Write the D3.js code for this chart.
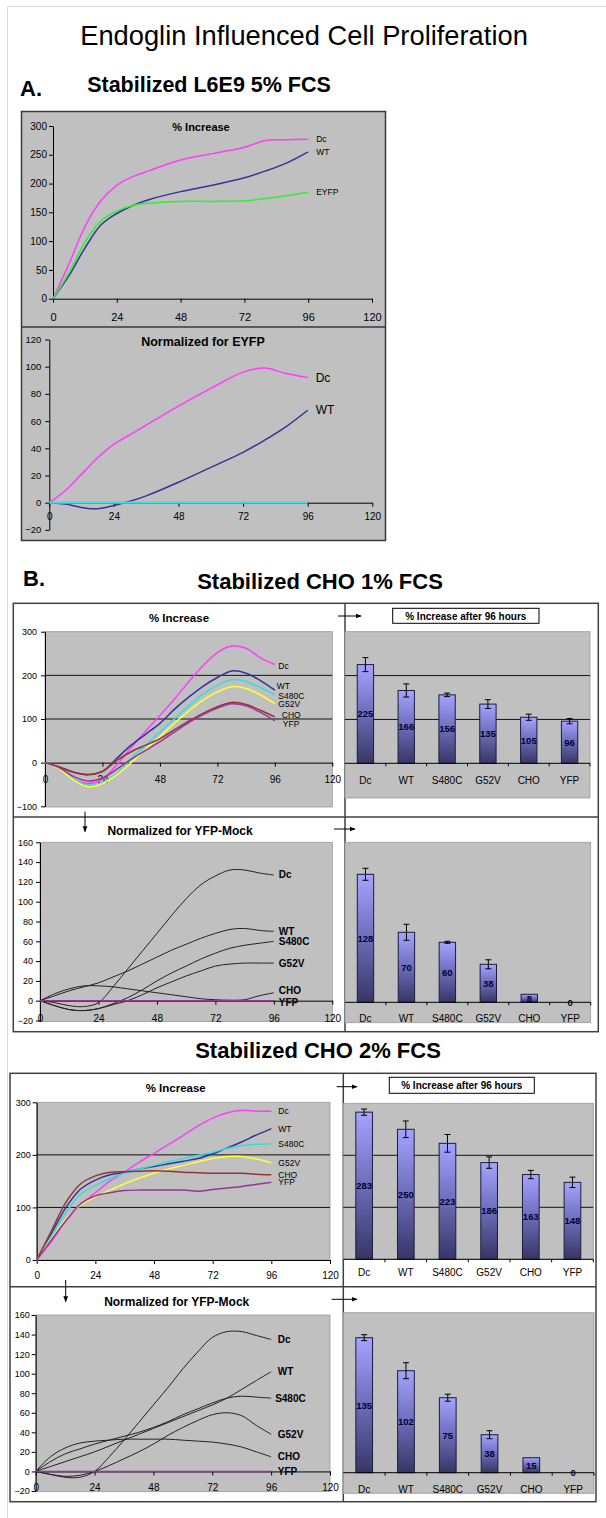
<!DOCTYPE html>
<html><head><meta charset="utf-8">
<script src="https://cdn.jsdelivr.net/npm/d3@7"></script>
<style>body{margin:0;background:#fff}svg{display:block;font-family:"Liberation Sans",Arial,sans-serif}</style>
</head><body><svg id="c" width="606" height="1518"></svg>
<script>
// ---------- data ----------
const cats = ["Dc","WT","S480C","G52V","CHO","YFP"];
const xTicks = [0,24,48,72,96,120];

const hoursA = [0,6,12,18,24,30,36,48,60,72,80,88,96];
const aIncDc   = [0,60,125,170,197,212,222,241,252,263,275,276,277];
const aIncWT   = [0,40,88,128,148,162,172,186,197,210,222,236,255];
const aIncEYFP = [0,45,98,135,152,162,166,169,169,170,174,179,185];
const aNormDc   = [0,9,21,33,43,50,57,71,84,96,99,95,92];
const aNormWT   = [0,-1,-3.5,-4.5,-2,1,5,15,26,37,46,56,68];
const aNormEYFP = [0,0,0,0,0,0,0,0,0,0,0,0,0];

const hoursB = [0,6,12,18,24,30,36,42,48,54,60,66,72,78,84,90,96];
// CHO 1% FCS, % increase (order = cats)
const cho1Inc = [
  [0,-15,-38,-48,-38,-5,35,72,108,145,185,222,252,267,262,240,225],
  [0,-10,-22,-27,-20,10,40,65,90,122,150,175,195,210,205,188,166],
  [0,-14,-38,-52,-45,-25,10,40,70,100,130,157,177,190,186,172,156],
  [0,-15,-40,-55,-48,-28,0,30,60,90,118,143,162,174,170,155,135],
  [0,-10,-22,-28,-20,5,25,40,55,75,95,113,128,138,133,120,105],
  [0,-12,-32,-42,-35,-15,8,28,48,70,92,110,125,135,130,115,96]
];
// CHO 1% FCS, normalized for YFP-Mock
const cho1Norm = [
  [0,-2,-5,-6,-2,14,32,50,68,86,103,117,126,132,132,129,127],
  [0,5,10,14,18,24,30,37,44,51,57,63,68,72,73,71,70],
  [0,-5,-9,-10,-8,-3,3,11,20,28,35,42,48,53,56,58,60],
  [0,-5,-9,-10,-8,-4,0,6,13,19,25,30,35,37,38,38,38],
  [0,7,12,15,15,14,12,10,8,6,4,2,1,0.5,1,5,8],
  [0,0,0,0,0,0,0,0,0,0,0,0,0,0,0,0,0]
];
// CHO 2% FCS, % increase
const cho2Inc = [
  [0,35,75,105,128,150,168,186,203,220,237,255,270,280,285,283,283],
  [0,50,100,135,152,162,167,173,178,183,188,193,202,213,225,238,250],
  [0,45,90,125,142,155,165,173,180,187,193,199,205,212,218,220,221],
  [0,40,78,105,120,133,145,156,165,173,180,187,193,197,197,192,185],
  [0,55,110,145,160,167,168,169,170,169,167,166,165,165,165,163,162],
  [0,38,75,107,122,128,132,133,133,133,133,131,134,137,140,144,148]
];
// CHO 2% FCS, normalized for YFP-Mock
const cho2Norm = [
  [0,-3,-6,-6,0,15,32,50,68,86,105,122,137,143,143,139,135],
  [0,5,10,15,20,26,32,38,44,50,56,62,68,75,84,93,102],
  [0,10,18,23,28,32,36,40,45,51,58,64,70,75,77,76,75],
  [0,-3,-5,-4,0,6,13,20,28,37,45,52,58,60,57,47,38],
  [0,15,24,29,31,32,33,33,33,33,32,31,30,28,25,20,15],
  [0,0,0,0,0,0,0,0,0,0,0,0,0,0,0,0,0]
];

const cho1Bar = [225,166,156,135,105,96];
const cho1BarErr = [16,15,4,10,7,6];
const cho1NormBar = [128,70,60,38,8,0];
const cho1NormErr = [6,8,1,4.5,0,0];
const cho2Bar = [283,250,223,186,163,148];
const cho2BarErr = [6,16,17,11,8,10];
const cho2NormBar = [135,102,75,38,15,0];
const cho2NormErr = [3,8,3.5,4,0,0];

// ---------- styles ----------
const FONT = '"Liberation Sans", Arial, sans-serif';
const GREY = "#c0c0c0";
const seriesColors = ["#ff3cff","#333399","#33dddd","#ffff33","#993333","#993399"];
const normColors = ["#222","#222","#222","#222","#222","#993399"];

const svg = d3.select("#c");
const defs = svg.append("defs");
const grad = defs.append("linearGradient").attr("id","barGrad")
  .attr("x1",0).attr("y1",0).attr("x2",0).attr("y2",1);
grad.append("stop").attr("offset","0%").attr("stop-color","#a4a4ff");
grad.append("stop").attr("offset","50%").attr("stop-color","#6c6cba");
grad.append("stop").attr("offset","100%").attr("stop-color","#363664");
defs.append("marker").attr("id","ah").attr("viewBox","0 0 10 10")
  .attr("refX",9).attr("refY",5).attr("markerWidth",6).attr("markerHeight",6)
  .attr("orient","auto").append("path").attr("d","M0,1 L10,5 L0,9 Z").attr("fill","#000");

function txt(x, y, s, size, bold, anchor, fill) {
  return svg.append("text").attr("x", x).attr("y", y).attr("dy", "0.35em")
    .attr("font-size", size).attr("font-weight", bold ? "bold" : "normal")
    .attr("text-anchor", anchor || "middle").attr("fill", fill || "#000").text(s);
}
function ln(x1,y1,x2,y2,stroke,w,arrow){
  const l = svg.append("line").attr("x1",x1).attr("y1",y1).attr("x2",x2).attr("y2",y2)
    .attr("stroke",stroke).attr("stroke-width",w);
  if (arrow) l.attr("marker-end","url(#ah)");
  return l;
}

function lineChart(c) {
  const g = svg.append("g");
  const x = d3.scaleLinear().domain([0,120]).range([c.xl, c.xr]);
  const y = d3.scaleLinear().domain(c.yDom).range(c.yRng);
  if (c.bg) g.append("rect").attr("x",c.xl).attr("y",c.bg[0]).attr("width",c.xr-c.xl)
    .attr("height",c.bg[1]-c.bg[0]).attr("fill",GREY).attr("stroke","#9a9a9a").attr("stroke-width",0.8);
  (c.grid||[]).forEach(v => g.append("line").attr("x1",c.xl).attr("x2",c.xr)
    .attr("y1",y(v)).attr("y2",y(v)).attr("stroke","#111").attr("stroke-width",1));
  const ya = g.append("g").attr("transform",`translate(${c.xl},0)`)
    .call(d3.axisLeft(y).tickValues(c.yTicks).tickSize(4).tickSizeOuter(0).tickPadding(c.yPad));
  const xa = g.append("g").attr("transform",`translate(0,${y(0)})`)
    .call(d3.axisBottom(x).tickValues(xTicks).tickSize(4).tickSizeOuter(0));
  [ya,xa].forEach(a => {
    a.attr("font-family", FONT);
    a.select(".domain").attr("stroke","#000");
    a.selectAll(".tick line").attr("stroke","#000");
    a.selectAll("text").attr("fill","#000");
  });
  ya.attr("font-size", c.yFs);
  xa.attr("font-size", c.xFs);
  xa.selectAll("text").attr("y", c.xLab).attr("dy","0.35em");
  const line = d3.line().x((d,i)=>x(c.hours[i])).y(d=>y(d)).curve(d3.curveCatmullRom.alpha(0.5));
  c.series.forEach((vals,i) => {
    g.append("path").attr("d", line(vals)).attr("fill","none")
      .attr("stroke", c.colors[i]).attr("stroke-width", c.widths ? c.widths[i] : 1.5);
  });
  c.labels.forEach((name,i) => {
    const vals = c.series[i];
    g.append("text").attr("x", x(c.hours[c.hours.length-1]) + c.labDx[i])
      .attr("y", y(vals[vals.length-1]) + (c.labDy ? c.labDy[i] : 0)).attr("dy","0.35em")
      .attr("font-size", c.labFs).attr("font-weight", c.labBold ? "bold" : "normal").text(name);
  });
}

function barChart(c) {
  const g = svg.append("g");
  const x = d3.scaleBand().domain(cats).range([c.xl, c.xr]);
  const y = d3.scaleLinear().domain(c.yDom).range([c.base, c.top]);
  g.append("rect").attr("x",c.xl).attr("y",c.top).attr("width",c.xr-c.xl)
    .attr("height",c.bgBottom-c.top).attr("fill",GREY).attr("stroke","#9a9a9a").attr("stroke-width",0.8);
  (c.grid||[]).forEach(v => g.append("line").attr("x1",c.xl).attr("x2",c.xr)
    .attr("y1",y(v)).attr("y2",y(v)).attr("stroke","#111").attr("stroke-width",1));
  const bw = x.bandwidth()*0.4;
  cats.forEach((cat,i) => {
    const v = c.values[i], cx = x(cat) + x.bandwidth()/2;
    if (v > 0) g.append("rect").attr("x", cx - bw/2).attr("y", y(v)).attr("width", bw)
      .attr("height", y(0)-y(v)).attr("fill","url(#barGrad)").attr("stroke","#1c1c40").attr("stroke-width",1);
  });
  g.append("line").attr("x1",c.xl).attr("x2",c.xr).attr("y1",y(0)).attr("y2",y(0))
    .attr("stroke","#000").attr("stroke-width",1);
  d3.range(1, cats.length+1).forEach(i => {
    const tx = c.xl + i*x.step();
    g.append("line").attr("x1",tx).attr("x2",tx).attr("y1",y(0)).attr("y2",y(0)+3)
      .attr("stroke","#000").attr("stroke-width",1);
  });
  cats.forEach((cat,i) => {
    const v = c.values[i], e = c.errs[i], cx = x(cat) + x.bandwidth()/2;
    if (e > 0) {
      g.append("line").attr("x1",cx).attr("x2",cx).attr("y1",y(v-e)).attr("y2",y(v+e)).attr("stroke","#000").attr("stroke-width",1);
      [v-e, v+e].forEach(t => g.append("line").attr("x1",cx-3).attr("x2",cx+3)
        .attr("y1",y(t)).attr("y2",y(t)).attr("stroke","#000").attr("stroke-width",1));
    }
    g.append("text").attr("x",cx).attr("y",(y(v)+y(0))/2).attr("dy","0.35em")
      .attr("text-anchor","middle").attr("font-size",9.5).attr("font-weight","bold")
      .attr("fill","#000033").text(v);
    g.append("text").attr("x",cx).attr("y",y(0)+c.catOff).attr("dy","0.35em")
      .attr("text-anchor","middle").attr("font-size",10).attr("fill","#000").text(cat);
  });
}

// ---------- frame + titles ----------
ln(7.5,6.5,606,6.5,"#d8d8d8",1);
ln(7.5,6.5,7.5,1518,"#d8d8d8",1);
svg.append("text").attr("x",304).attr("y",45).attr("text-anchor","middle")
  .attr("font-size",27.3).text("Endoglin Influenced Cell Proliferation");
svg.append("text").attr("x",20).attr("y",96).attr("font-size",22).attr("font-weight","bold").text("A.");
svg.append("text").attr("x",209).attr("y",92).attr("text-anchor","middle").attr("font-size",21.5)
  .attr("font-weight","bold").text("Stabilized L6E9 5% FCS");
svg.append("text").attr("x",23).attr("y",586).attr("font-size",22).attr("font-weight","bold").text("B.");
svg.append("text").attr("x",320).attr("y",589).attr("text-anchor","middle").attr("font-size",22)
  .attr("font-weight","bold").text("Stabilized CHO 1% FCS");
svg.append("text").attr("x",318).attr("y",1057.5).attr("text-anchor","middle").attr("font-size",22)
  .attr("font-weight","bold").text("Stabilized CHO 2% FCS");

// ---------- Panel A ----------
svg.append("rect").attr("x",21.5).attr("y",111.5).attr("width",364).attr("height",429)
  .attr("fill",GREY).attr("stroke","#3a3a3a").attr("stroke-width",1.5);
ln(21.5,327,385.5,327,"#3a3a3a",1.5);
txt(201,127,"% Increase",11,true);
txt(203,341.7,"Normalized for EYFP",12.5,true);
lineChart({xl:53, xr:372, yDom:[0,300], yRng:[298.7,126], yTicks:[0,50,100,150,200,250,300],
  yPad:2, yFs:10, xFs:11, xLab:18, hours:hoursA, series:[aIncDc,aIncWT,aIncEYFP],
  colors:["#ff3cff","#333399","#33ee33"], labels:["Dc","WT","EYFP"], labDx:[8,8,8], labFs:8.5});
lineChart({xl:49.3, xr:372.3, yDom:[-20,120], yRng:[529.9,339.5], yTicks:[-20,0,20,40,60,80,100,120],
  yPad:4, yFs:9.5, xFs:10, xLab:14.3, hours:hoursA, series:[aNormDc,aNormWT,aNormEYFP],
  colors:["#ff3cff","#333399","#40dede"], widths:[1.5,1.5,2.2], labels:["Dc","WT"], labDx:[8,8], labFs:12});

// ---------- Panel B: CHO 1% ----------
svg.append("rect").attr("x",13.3).attr("y",603.3).attr("width",585).attr("height",428.4)
  .attr("fill","#fff").attr("stroke","#404040").attr("stroke-width",1.5);
ln(345,603.3,345,1031.7,"#404040",1.5);
ln(13.3,817,598.3,817,"#404040",1.5);
txt(179,617.7,"% Increase",11.5,true);
txt(180,831,"Normalized for YFP-Mock",12,true);
lineChart({xl:45, xr:332.3, yDom:[-100,300], yRng:[806.3,631.7], bg:[631.7,807], grid:[100,200],
  yTicks:[-100,0,100,200,300], yPad:4, yFs:9, xFs:10, xLab:17.3, hours:hoursB, series:cho1Inc,
  colors:seriesColors, labels:cats, labDx:[3.5,2,3.5,3.5,7,8], labDy:[2,-4,1,0,-2,3], labFs:8.5});
barChart({xl:345, xr:590, top:631.7, base:763.3, yDom:[0,300], bgBottom:798, grid:[100,200],
  catOff:16.7, values:cho1Bar, errs:cho1BarErr});
lineChart({xl:40, xr:332.3, yDom:[-20,160], yRng:[1020.5,842.3], bg:[842.3,1021.5],
  yTicks:[-20,0,20,40,60,80,100,120,140,160], yPad:3, yFs:9, xFs:10, xLab:17.6, hours:hoursB,
  series:cho1Norm, colors:normColors, widths:[1,1,1,1,1,1.5], labels:cats, labDx:[5,5,5,5,5,5],
  labDy:[0,0,0,0,-2,1.5], labFs:10, labBold:true});
barChart({xl:345, xr:590.7, top:842.3, base:1002.3, yDom:[0,160], bgBottom:1022.7,
  catOff:16, values:cho1NormBar, errs:cho1NormErr});
// title box + arrows
svg.append("rect").attr("x",392.7).attr("y",608.3).attr("width",146.3).attr("height",15)
  .attr("fill","#fff").attr("stroke","#000").attr("stroke-width",1);
txt(465.8,616,"% Increase after 96 hours",10,true);
ln(338,616,361,616,"#000",1,true);
ln(334,829,355,829,"#000",1,true);
ln(85,811.7,85,831.7,"#000",1,true);

// ---------- Panel B: CHO 2% ----------
svg.append("rect").attr("x",10).attr("y",1073.3).attr("width",586).attr("height",428.4)
  .attr("fill","#fff").attr("stroke","#404040").attr("stroke-width",1.5);
ln(343.3,1073.3,343.3,1501.7,"#404040",1.5);
ln(10,1286.7,596,1286.7,"#404040",1.5);
txt(175.7,1087.7,"% Increase",11.5,true);
txt(176.7,1301.7,"Normalized for YFP-Mock",12,true);
lineChart({xl:36.7, xr:330, yDom:[0,300], yRng:[1260,1102.3], bg:[1102.3,1260], grid:[100,200],
  yTicks:[0,100,200,300], yPad:2, yFs:9, xFs:10, xLab:15, hours:hoursB, series:cho2Inc,
  colors:seriesColors, labels:cats, labDx:[7,7,7,7,7,7], labFs:8.5});
barChart({xl:343.3, xr:593.3, top:1103.3, base:1259.3, yDom:[0,300], bgBottom:1259.3, grid:[100,200],
  catOff:13, values:cho2Bar, errs:cho2BarErr});
lineChart({xl:35.7, xr:330, yDom:[-20,160], yRng:[1491,1315], bg:[1315,1491.7],
  yTicks:[-20,0,20,40,60,80,100,120,140,160], yPad:2, yFs:9, xFs:10, xLab:15.6, hours:hoursB,
  series:cho2Norm, colors:normColors, widths:[1,1,1,1,1,1.5], labels:cats, labDx:[6.6,6.6,4,6.6,6.6,6.6],
  labFs:10, labBold:true});
barChart({xl:343.3, xr:594, top:1312.7, base:1472.7, yDom:[0,160], bgBottom:1493.3,
  catOff:16.3, values:cho2NormBar, errs:cho2NormErr});
svg.append("rect").attr("x",389.3).attr("y",1077.3).attr("width",145).attr("height",16)
  .attr("fill","#fff").attr("stroke","#000").attr("stroke-width",1);
txt(461.8,1085.3,"% Increase after 96 hours",10,true);
ln(336.7,1086.7,357,1086.7,"#000",1,true);
ln(331.7,1299.3,357,1299.3,"#000",1,true);
ln(65.7,1280,65.7,1301.7,"#000",1,true);
</script>
</body></html>
